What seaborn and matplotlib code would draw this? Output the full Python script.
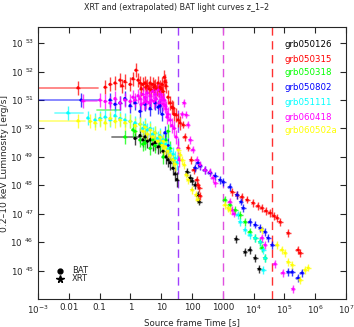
import numpy as np
import pandas as pd
import matplotlib
matplotlib.use("Agg")
import matplotlib.pyplot as plt
import seaborn as sns

# ---------------- data (log10 values) ----------------
names = ["grb050126", "grb050315", "grb050318", "grb050802",
         "grb051111", "grb060418", "grb060502a"]
colors = ["#000000", "#FF0000", "#00FF00", "#0000FF",
          "#00FFFF", "#FF00FF", "#FFFF00"]

# extrapolated BAT level: (log t start, log t end, log L)
bat_extrap = {
    "grb050126": (-0.60, 0.31, 49.70),
    "grb050315": (-3.00, -1.05, 51.43),
    "grb050318": (-1.10, -0.34, 50.65),
    "grb050802": (-3.00, -1.00, 51.00),
    "grb051111": (-2.45, -1.54, 50.55),
    "grb060418": (-1.60, -1.10, 50.97),
    "grb060502a": (-3.00, -1.47, 50.27),
}

# BAT points
bat_t = {
    "grb050126": [0.15, 0.31, 0.40, 0.47, 0.55, 0.64, 0.72, 0.80, 0.90, 0.96, 1.06, 1.15, 1.22, 1.29, 1.38, 1.45, 1.51],
    "grb050315": [-1.70, -0.82, -0.66, -0.50, -0.34, -0.27, -0.18, -0.01, 0.08, 0.18, 0.25, 0.31, 0.40, 0.47, 0.55, 0.64, 0.72, 0.80, 0.90, 0.96, 1.03, 1.10, 1.15, 1.22, 1.29, 1.35, 1.38, 1.42, 1.48, 1.55, 1.61,
                  0.35, 0.50, 0.60, 0.68, 0.76, 0.85, 0.93, 1.00, 1.06, 1.12],
    "grb050318": [-0.18, 0.08, 0.15, 0.31, 0.40, 0.47, 0.64, 0.72, 0.80, 0.96, 1.06, 1.15, 1.22, 1.29, 1.38],
    "grb050802": [-1.60, -0.66, -0.50, -0.34, -0.18, -0.01, 0.15, 0.31, 0.47, 0.64, 0.80, 0.90, 0.96, 1.03, 1.12, 1.22],
    "grb051111": [-2.03, -1.38, -1.15, -0.99, -0.82, -0.66, -0.50, -0.34, -0.18, -0.01, 0.15, 0.31, 0.47, 0.64, 0.80, 0.96, 1.06, 1.15, 1.22, 1.29, 1.38, 1.45, 1.51,
                  0.40, 0.55, 0.72, 0.88, 1.02],
    "grb060418": [-1.54, -0.99, -0.82, -0.66, -0.50, -0.34, -0.18, -0.01, 0.08, 0.15, 0.25, 0.31, 0.40, 0.47, 0.55, 0.64, 0.72, 0.80, 0.90, 0.96, 1.03, 1.10, 1.15, 1.22, 1.29, 1.35, 1.42, 1.48, 1.55, 1.58,
                  0.35, 0.44, 0.52, 0.60, 0.68, 0.76, 0.84, 0.93, 1.00, 1.07, 1.13, 1.19],
    "grb060502a": [-1.70, -1.31, -1.15, -0.99, -0.82, -0.66, -0.50, -0.34, -0.18, -0.01, 0.15, 0.31, 0.47, 0.64, 0.80, 0.96, 1.06, 1.15, 1.22, 1.29, 1.38, 1.45,
                   0.40, 0.55, 0.72, 0.88, 1.02, 1.10],
}
bat_L = {
    "grb050126": [49.65, 49.75, 49.60, 49.70, 49.55, 49.60, 49.45, 49.50, 49.35, 49.40, 49.20, 49.00, 48.90, 48.80, 48.60, 48.40, 48.20],
    "grb050315": [51.43, 51.45, 51.55, 51.60, 51.70, 51.50, 51.65, 51.55, 51.75, 52.05, 51.70, 51.60, 51.55, 51.60, 51.50, 51.60, 51.55, 51.50, 51.60, 51.45, 51.55, 51.80, 51.50, 51.10, 50.90, 50.75, 50.72, 50.50, 50.48, 50.30, 50.20,
                  51.40, 51.45, 51.40, 51.35, 51.45, 51.40, 51.35, 51.40, 51.30, 51.65],
    "grb050318": [49.70, 49.95, 49.90, 49.60, 49.45, 49.50, 49.30, 49.60, 49.40, 49.45, 49.00, 49.60, 49.90, 49.30, 48.90],
    "grb050802": [51.00, 51.00, 50.85, 50.90, 51.05, 50.80, 50.90, 50.60, 50.85, 50.70, 50.90, 50.75, 50.80, 50.50, 49.85, 49.40],
    "grb051111": [50.55, 50.37, 50.30, 50.35, 50.40, 50.30, 50.45, 50.35, 50.30, 50.25, 50.20, 50.15, 50.10, 50.00, 49.85, 49.75, 49.60, 49.45, 49.30, 49.20, 49.10, 48.95, 48.80,
                  50.00, 49.95, 49.80, 49.65, 49.50],
    "grb060418": [50.97, 51.00, 50.95, 50.90, 51.05, 50.90, 51.00, 50.95, 51.10, 51.00, 51.15, 51.05, 51.20, 51.10, 51.25, 51.15, 51.30, 51.20, 51.35, 51.20, 51.10, 51.00, 50.70, 50.50, 50.30, 50.10, 50.00, 49.70, 49.30, 48.90,
                  50.85, 50.90, 50.95, 50.90, 51.00, 50.95, 51.05, 50.90, 51.00, 50.85, 50.80, 50.40],
    "grb060502a": [50.27, 50.25, 50.20, 50.30, 50.20, 50.35, 50.25, 50.30, 50.20, 50.25, 50.10, 50.15, 50.05, 49.95, 49.85, 49.70, 49.55, 49.35, 49.20, 49.05, 48.90, 48.75,
                   49.90, 49.80, 49.70, 49.55, 49.40, 49.30],
}

# XRT points
xrt_t = {
    "grb050126": [1.84, 1.94, 2.00, 2.10, 2.19, 2.23, 3.43, 3.72, 3.88, 4.05, 4.18],
    "grb050315": [1.71, 1.77, 1.87, 1.97, 2.06, 2.16, 2.19, 2.23, 2.26, 3.30, 3.46, 3.62, 3.79, 3.98, 4.14, 4.27, 4.40, 4.53, 4.66, 4.76, 4.86, 5.12, 5.44, 5.51],
    "grb050318": [3.07, 3.23, 3.40, 3.56, 3.72, 3.88, 4.05, 4.21, 4.27, 4.37],
    "grb050802": [2.10, 2.19, 2.26, 2.42, 2.58, 2.75, 2.91, 3.01, 3.23, 3.46, 3.59, 3.66, 3.88, 4.05, 4.21, 4.37, 4.47, 4.60, 5.12, 5.25, 5.44, 5.57],
    "grb051111": [3.49, 3.56, 3.72, 3.88, 4.05, 4.21, 4.31, 4.37, 4.31],
    "grb060418": [1.68, 1.74, 1.81, 1.87, 1.94, 2.03, 2.16, 2.26, 2.42, 2.58, 2.68, 2.75, 3.23, 3.30, 3.36, 4.27, 4.37, 4.69, 4.95, 5.28],
    "grb060502a": [1.55, 1.61, 1.68, 1.74, 1.81, 1.87, 2.00, 2.13, 2.19, 3.07, 3.17, 3.23, 4.27, 4.76, 4.92, 5.02, 5.12, 5.25, 5.51, 5.67, 5.77],
}
xrt_L = {
    "grb050126": [48.47, 48.26, 48.15, 48.01, 47.66, 47.42, 46.11, 45.65, 45.73, 45.44, 45.06],
    "grb050315": [50.13, 49.70, 49.32, 48.89, 48.54, 48.19, 48.00, 47.91, 47.63, 47.77, 47.66, 47.59, 47.49, 47.38, 47.27, 47.20, 47.10, 47.03, 46.92, 46.85, 46.71, 46.32, 45.73, 45.62],
    "grb050318": [47.49, 47.31, 47.13, 46.96, 46.71, 46.36, 46.15, 46.01, 45.80, 45.44],
    "grb050802": [48.61, 48.79, 48.68, 48.54, 48.44, 48.33, 48.19, 48.12, 47.94, 47.66, 47.42, 47.20, 46.71, 46.61, 46.50, 46.36, 46.15, 45.90, 44.95, 44.95, 44.74, 44.92],
    "grb051111": [46.96, 46.71, 46.43, 46.25, 46.15, 46.01, 45.73, 45.44, 45.02],
    "grb060418": [50.50, 50.90, 50.48, 50.13, 49.60, 49.25, 48.89, 48.72, 48.54, 48.47, 48.26, 48.08, 47.42, 47.13, 47.00, 46.15, 45.90, 45.23, 44.92, 44.35],
    "grb060502a": [49.25, 49.07, 48.89, 48.72, 48.37, 48.19, 47.84, 47.66, 47.49, 47.31, 47.20, 47.13, 46.43, 45.90, 45.73, 45.62, 45.30, 45.20, 44.67, 45.02, 45.10],
}

vlines_t = [35.0, 1050.0, 4.0e4]
vline_colors = ["#A040FF", "#E050E0", "#FF3030"]

xtick_vals = [1e-3, 1e-2, 1e-1, 1, 10, 100, 1000, 1e4, 1e5, 1e6, 1e7]
xtick_labels = [r"10$^{-3}$", "0.01", "0.1", "1", "10", "100", "1000",
                r"10$^{4}$", r"10$^{5}$", r"10$^{6}$", r"10$^{7}$"]
ytick_vals = [1e45, 1e46, 1e47, 1e48, 1e49, 1e50, 1e51, 1e52, 1e53]
ytick_labels = [r"10 $^{%d}$" % e for e in range(45, 54)]

# ---------------- plotting ----------------
sns.set_style("ticks")
plt.rcParams["font.family"] = ["DejaVu Sans"]

fig = plt.figure(figsize=(3.54, 3.27), dpi=100)
ax = fig.add_axes([38 / 354, 1 - 299 / 327, 308 / 354, 272 / 327])
ax.set_xscale("log")
ax.set_yscale("log")

rows = []
for n, c in zip(names, colors):
    t0, t1, lv = bat_extrap[n]
    ax.plot([10 ** t0, 10 ** t1], [10 ** lv, 10 ** lv], color=c, alpha=0.5, lw=1.3, zorder=2)
    for kind, tt, LL, xe, ye in (("BAT", bat_t[n], bat_L[n], 0.07, 0.25),
                                  ("XRT", xrt_t[n], xrt_L[n], 0.08, 0.13)):
        t = 10 ** np.array(tt)
        L = 10 ** np.array(LL)
        ax.errorbar(t, L,
                    xerr=[t - t / 10 ** xe, t * 10 ** xe - t],
                    yerr=[L - L / 10 ** ye, L * 10 ** ye - L],
                    fmt="none", ecolor=c, elinewidth=1.0, alpha=0.75, zorder=3)
        for a, b in zip(t, L):
            rows.append({"t": a, "L": b, "grb": n, "kind": kind})

df = pd.DataFrame(rows)
pal = dict(zip(names, colors))
sns.scatterplot(data=df[df.kind == "BAT"], x="t", y="L", hue="grb", palette=pal,
                marker="o", s=5, linewidth=0, legend=False, ax=ax, zorder=4)
sns.scatterplot(data=df[df.kind == "XRT"], x="t", y="L", hue="grb", palette=pal,
                marker="*", s=14, linewidth=0, legend=False, ax=ax, zorder=4)

for v, c in zip(vlines_t, vline_colors):
    ax.axvline(v, color=c, ls=(0, (6, 4)), lw=1.0, zorder=1)

ax.set_xlim(1e-3, 1e7)
ax.set_ylim(1e44, 3.7e53)
ax.set_xticks(xtick_vals)
ax.set_xticklabels(xtick_labels)
ax.set_yticks(ytick_vals)
ax.set_yticklabels(ytick_labels)
ax.tick_params(which="both", direction="in", top=True, right=True, labelsize=6.3)
ax.tick_params(which="major", length=4, pad=3)
ax.tick_params(which="minor", length=2)
for s in ax.spines.values():
    s.set_linewidth(0.8)

ax.set_xlabel("Source frame Time [s]", fontsize=6.2, labelpad=2)
ax.set_ylabel("0.2\u201310 keV Luminosity [erg/s]", fontsize=6.6, labelpad=1)
fig.text(0.5, 1 - 8 / 327, "XRT and (extrapolated) BAT light curves z_1\u20132",
         ha="center", va="center", fontsize=5.8)

leg_y = [0.934, 0.879, 0.831, 0.776, 0.724, 0.669, 0.621]
for n, c, y in zip(names, colors, leg_y):
    ax.text(0.80, y, n, color=c, transform=ax.transAxes, fontsize=6.2,
            ha="left", va="center")

ax.plot([0.071], [0.103], marker="o", color="black", ms=3.5, transform=ax.transAxes)
ax.plot([0.071], [0.074], marker="*", color="black", ms=5.5, transform=ax.transAxes)
ax.text(0.11, 0.103, "BAT", transform=ax.transAxes, fontsize=6, va="center")
ax.text(0.11, 0.074, "XRT", transform=ax.transAxes, fontsize=6, va="center")

fig.savefig("out.png", dpi=100)
